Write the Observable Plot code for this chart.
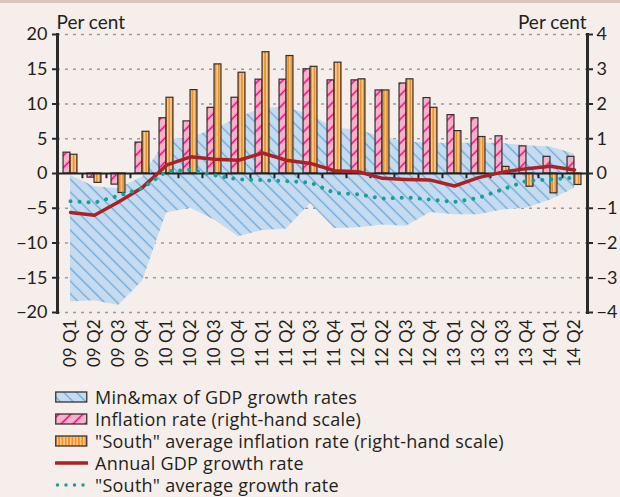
<!DOCTYPE html>
<html><head><meta charset="utf-8">
<script src="https://cdn.jsdelivr.net/npm/d3@7"></script>
<script src="https://cdn.jsdelivr.net/npm/@observablehq/plot@0.6"></script>
<style>
body{margin:0;background:#f5eeea;font-family:Lato,sans-serif;}
#wrap{position:relative;width:620px;height:497px;overflow:hidden;background:#f5eeea}
#topbar{position:absolute;left:0;top:0;width:620px;height:3px;background:#dbc7ba}
#chart{position:absolute;left:0;top:0}
#legend{position:absolute;left:55px;top:386px;font-family:"Open Sans",sans-serif;font-size:18px;letter-spacing:0.25px;color:#231f20;line-height:22px}
.row{height:22px;display:flex;align-items:center;white-space:nowrap}
.row svg{margin-right:7px;flex:none}
</style></head><body>
<svg width="0" height="0" style="position:absolute">
<defs>
<pattern id="hatchBlue" patternUnits="userSpaceOnUse" width="9" height="9" patternTransform="rotate(-45)">
<rect width="9" height="9" fill="#c5dcf0"/>
<line x1="4.5" y1="0" x2="4.5" y2="9" stroke="#6ea7d8" stroke-width="1.3"/>
</pattern>
<pattern id="hatchPink" patternUnits="userSpaceOnUse" width="8.5" height="8.5" patternTransform="rotate(45)">
<rect width="8.5" height="8.5" fill="#f7b2ca"/>
<line x1="4.25" y1="0" x2="4.25" y2="8.5" stroke="#e5077f" stroke-width="1.5"/>
</pattern>
<pattern id="stripeOrange" patternUnits="userSpaceOnUse" width="3.3" height="10">
<rect width="3.3" height="10" fill="#f5901f"/>
<rect x="1.9" width="1.1" height="10" fill="#fde2c2"/>
</pattern>
</defs>
</svg>
<div id="wrap"><div id="chart"></div><div id="topbar"></div><div id="legend"></div></div>
<script>
const quarters = ["09 Q1","09 Q2","09 Q3","09 Q4","10 Q1","10 Q2","10 Q3","10 Q4","11 Q1","11 Q2","11 Q3","11 Q4","12 Q1","12 Q2","12 Q3","12 Q4","13 Q1","13 Q2","13 Q3","13 Q4","14 Q1","14 Q2"];
// right-hand scale (per cent)
const inflation = [0.6,-0.12,-0.32,0.89,1.59,1.5,1.89,2.18,2.7,2.7,3.0,2.68,2.68,2.39,2.59,2.17,1.68,1.59,1.07,0.78,0.48,0.48];
const southInflation = [0.54,-0.27,-0.56,1.2,2.18,2.4,3.14,2.9,3.49,3.38,3.07,3.19,2.71,2.39,2.71,1.89,1.22,1.05,0.19,-0.38,-0.57,-0.33];
// left-hand scale (per cent)
const gdpGrowth = [-5.6,-6.0,-4.1,-2.0,1.2,2.4,2.05,1.9,2.95,1.9,1.45,0.4,0.25,-0.7,-0.85,-0.95,-1.8,-0.6,0.2,0.7,1.05,0.5];
const southGrowth = [-4.0,-4.2,-3.2,-2.1,0.3,0.55,-0.25,-0.85,-0.95,-1.1,-1.3,-2.8,-3.0,-3.6,-3.45,-3.75,-4.1,-3.5,-2.3,-1.05,-0.85,-0.6];
const gdpMin = [-18.5,-18.3,-19.0,-15.5,-5.7,-5.0,-6.7,-9.1,-8.2,-8.0,-4.3,-7.9,-7.8,-7.4,-7.6,-5.6,-5.95,-5.95,-5.25,-5.0,-3.8,-2.15];
const gdpMax = [-0.3,-1.9,-2.2,-0.5,4.9,5.1,6.4,8.0,9.4,9.5,8.4,6.6,6.2,5.3,4.5,4.4,4.3,4.4,4.3,4.0,3.8,2.8];
const leftTicks = [-20,-15,-10,-5,0,5,10,15,20];
const rightScaleFactor = 5; // right-hand 4 = left-hand 20

const W = 620, H = 385, mL = 57, mR = 33, mT = 34, mB = 73;
const bw = (W - mL - mR) / quarters.length;
const barW = 7;
const inset = (bw - barW) / 2;

const rows = quarters.map((q, i) => ({
  q,
  infl: inflation[i] * rightScaleFactor,
  south: southInflation[i] * rightScaleFactor,
  gdp: gdpGrowth[i],
  sg: southGrowth[i],
  lo: gdpMin[i],
  hi: gdpMax[i]
}));
const fmt = d => d < 0 ? "\u2212" + (-d) : String(d);

const chart = Plot.plot({
  width: W, height: H,
  marginLeft: mL, marginRight: mR, marginTop: mT, marginBottom: mB,
  style: {background: "transparent", fontFamily: "Lato, sans-serif", fontSize: "18px", color: "#231f20", overflow: "visible"},
  x: {type: "band", domain: quarters, padding: 0, axis: null, label: null},
  y: {domain: [-20, 20], axis: null, label: null},
  marks: [
    Plot.ruleY(leftTicks.filter(d => d !== 0), {stroke: "#9b9b9b", strokeDasharray: "3 5", strokeWidth: 1.3}),
    Plot.areaY(rows, {x: "q", y1: "lo", y2: "hi", fill: "url(#hatchBlue)"}),
    Plot.barY(rows, {x: "q", y: "infl", fill: "url(#hatchPink)", stroke: "#2f2f2f", strokeWidth: 1.2, insetLeft: inset, insetRight: inset, dx: -barW / 2}),
    Plot.barY(rows, {x: "q", y: "south", fill: "url(#stripeOrange)", stroke: "#2f2f2f", strokeWidth: 1.2, insetLeft: inset, insetRight: inset, dx: barW / 2}),
    Plot.ruleY([0], {stroke: "#222", strokeWidth: 2.2}),
    Plot.ruleX(quarters.slice(1), {x: d => d, y1: 0, y2: -0.75, dx: -bw / 2, stroke: "#222", strokeWidth: 2}),
    Plot.lineY(rows, {x: "q", y: "gdp", stroke: "#a92226", strokeWidth: 3.5, strokeLinejoin: "round"}),
    Plot.lineY(rows, {x: "q", y: "sg", stroke: "#17a195", strokeWidth: 4, strokeDasharray: "0.01 9", strokeLinecap: "round"}),
    Plot.frame({anchor: "left", stroke: "#2a2a2a", strokeWidth: 3}),
    Plot.frame({anchor: "right", stroke: "#2a2a2a", strokeWidth: 3}),
    Plot.axisY({anchor: "left", ticks: leftTicks, tickFormat: fmt, tickSize: 5, tickPadding: 5, strokeWidth: 2, stroke: "#2a2a2a", fontSize: 18, label: null}),
    Plot.axisY({anchor: "right", ticks: leftTicks, tickFormat: d => fmt(d / rightScaleFactor), tickSize: 5, tickPadding: 4, strokeWidth: 2, stroke: "#2a2a2a", fontSize: 18, label: null}),
    Plot.axisX({anchor: "bottom", tickRotate: -90, tickSize: 0, tickPadding: 7, fontSize: 17, label: null}),
    Plot.text(["Per cent"], {frameAnchor: "top-left", textAnchor: "start", lineAnchor: "bottom", dy: -6, dx: -1, fontSize: 19, fill: "#231f20"}),
    Plot.text(["Per cent"], {frameAnchor: "top-right", textAnchor: "end", lineAnchor: "bottom", dy: -6, dx: -1, fontSize: 19, fill: "#231f20"})
  ]
});
document.getElementById("chart").appendChild(chart);

// legend
const legendItems = [
  {label: "Min&max of GDP growth rates", kind: "rect", fill: "url(#hatchBlue)"},
  {label: "Inflation rate (right-hand scale)", kind: "rect", fill: "url(#hatchPink)"},
  {label: "\"South\" average inflation rate (right-hand scale)", kind: "rect", fill: "url(#stripeOrange)"},
  {label: "Annual GDP growth rate", kind: "line", stroke: "#a92226"},
  {label: "\"South\" average growth rate", kind: "dots", stroke: "#17a195"}
];
const legend = document.getElementById("legend");
const ns = "http://www.w3.org/2000/svg";
for (const it of legendItems) {
  const row = document.createElement("div");
  row.className = "row";
  const s = document.createElementNS(ns, "svg");
  s.setAttribute("width", 33); s.setAttribute("height", 14);
  let el;
  if (it.kind === "rect") {
    el = document.createElementNS(ns, "rect");
    el.setAttribute("x", 0.75); el.setAttribute("y", 2); el.setAttribute("width", 31); el.setAttribute("height", 10);
    el.setAttribute("fill", it.fill); el.setAttribute("stroke", "#333"); el.setAttribute("stroke-width", 1.3);
  } else {
    el = document.createElementNS(ns, "line");
    el.setAttribute("x1", it.kind === "dots" ? 2.5 : 1); el.setAttribute("x2", 32); el.setAttribute("y1", 7); el.setAttribute("y2", 7);
    el.setAttribute("stroke", it.stroke);
    el.setAttribute("stroke-width", 3.5);
    el.setAttribute("stroke-linecap", "round");
    if (it.kind === "dots") el.setAttribute("stroke-dasharray", "0.01 8.5");
  }
  s.appendChild(el);
  row.appendChild(s);
  const t = document.createElement("span");
  t.textContent = it.label;
  row.appendChild(t);
  legend.appendChild(row);
}
</script>
</body></html>
